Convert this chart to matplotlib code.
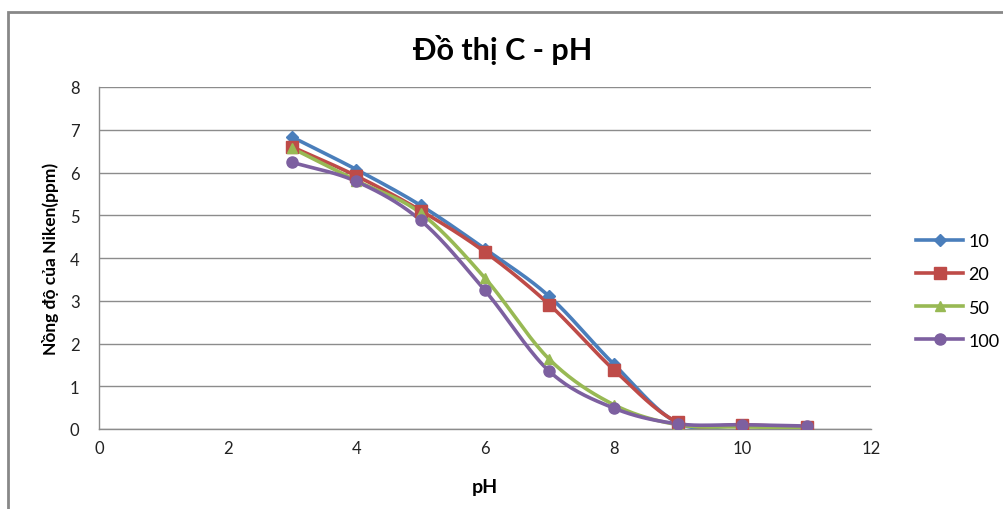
import numpy as np
import matplotlib
matplotlib.use("Agg")
import matplotlib.pyplot as plt
from matplotlib.patches import Rectangle
from matplotlib.lines import Line2D

ph = [3, 4, 5, 6, 7, 8, 9, 10, 11]
c10 = [6.83, 6.07, 5.23, 4.21, 3.10, 1.52, 0.14, 0.08, 0.02]
c20 = [6.60, 5.92, 5.11, 4.14, 2.91, 1.39, 0.16, 0.10, 0.04]
c50 = [6.57, 5.81, 5.05, 3.53, 1.63, 0.57, 0.10, 0.05, 0.03]
c100 = [6.24, 5.79, 4.88, 3.24, 1.35, 0.49, 0.12, 0.10, 0.07]
series_labels = ["10", "20", "50", "100"]

colors = ["#4A7EBB", "#BE4B48", "#98B954", "#7D60A0"]
markers = ["D", "s", "^", "o"]
msizes = [6, 8, 7, 8]

plt.rcParams['font.family'] = ['Lato', 'DejaVu Sans']


def smooth(x, y, n=20):
    # Catmull-Rom style rendering of a smoothed line through the points
    x = np.asarray(x, float)
    y = np.asarray(y, float)
    px = np.concatenate([[2 * x[0] - x[1]], x, [2 * x[-1] - x[-2]]])
    py = np.concatenate([[2 * y[0] - y[1]], y, [2 * y[-1] - y[-2]]])
    xs, ys = [], []
    t = np.linspace(0, 1, n, endpoint=False)
    for i in range(1, len(px) - 2):
        p0, p1, p2, p3 = (np.array([px[j], py[j]]) for j in range(i - 1, i + 3))
        b1 = p1 + (p2 - p0) / 6.0
        b2 = p2 - (p3 - p1) / 6.0
        tt = t[:, None]
        pts = ((1 - tt) ** 3) * p1 + 3 * ((1 - tt) ** 2) * tt * b1 + 3 * (1 - tt) * tt ** 2 * b2 + tt ** 3 * p2
        xs.extend(pts[:, 0])
        ys.extend(pts[:, 1])
    xs.append(x[-1])
    ys.append(y[-1])
    return np.array(xs), np.array(ys)


fig = plt.figure(figsize=(10.04, 5.10), dpi=100)
ax = fig.add_axes([99 / 1004, 1 - 430 / 510, (871 - 99) / 1004, (430 - 88) / 510])

handles = []
for ys, lab, col, mk, ms in zip([c10, c20, c50, c100], series_labels, colors, markers, msizes):
    sx, sy = smooth(ph, ys)
    ax.plot(sx, sy, color=col, lw=2.6, solid_capstyle='round', zorder=3)
    ax.plot(ph, ys, linestyle='none', marker=mk, ms=ms, color=col, zorder=4)
    handles.append(Line2D([0], [0], color=col, lw=2.6, marker=mk, ms=ms, label=lab))

ax.set_xlim(0, 12)
ax.set_ylim(0, 8)
ax.set_xticks(range(0, 13, 2))
ax.set_yticks(range(0, 9))
ax.tick_params(length=0, labelsize=12, colors='#222222', pad=14)
ax.tick_params(axis='x', pad=8)
ax.yaxis.grid(True, color='#8c8c8c', lw=1)
ax.set_axisbelow(True)
for s in ['top', 'right']:
    ax.spines[s].set_visible(False)
for s in ['left', 'bottom']:
    ax.spines[s].set_color('#8c8c8c')
    ax.spines[s].set_linewidth(1)

ax.set_xlabel("pH", fontsize=14, fontweight='bold', labelpad=16)
ax.set_ylabel("Nồng độ của Niken(ppm)", fontsize=12.5, fontweight='bold', labelpad=8)
fig.text(503 / 1004, 1 - 50 / 510, "Đồ thị C - pH", ha='center', va='center',
         fontsize=22, fontweight='bold')

leg = fig.legend(handles=handles, loc='center left', bbox_to_anchor=(900 / 1004, 1 - 292 / 510),
                 frameon=False, fontsize=13, handlelength=2.6, labelspacing=0.95,
                 handletextpad=0.3)

frame = Rectangle((8 / 1004, -0.1), 1.2, 1 - 13 / 510 + 0.1, transform=fig.transFigure,
                  fill=False, edgecolor='#888888', lw=2, clip_on=False)
fig.patches.append(frame)

fig.savefig("out.png", dpi=100)
